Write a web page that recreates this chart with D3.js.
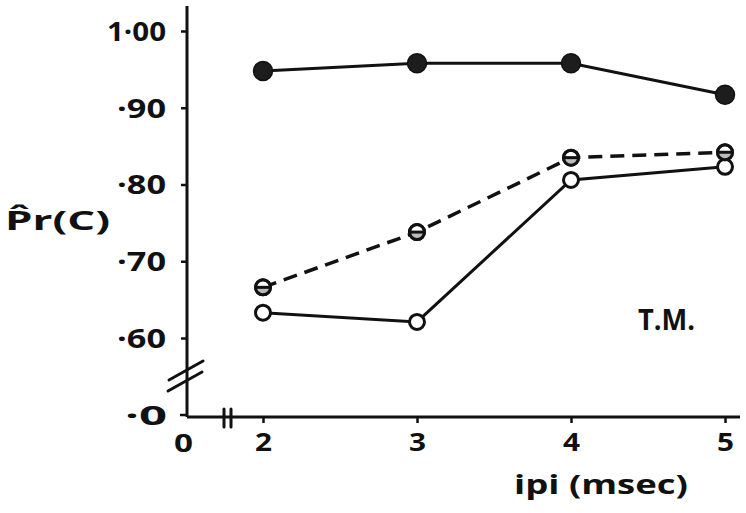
<!DOCTYPE html>
<html>
<head>
<meta charset="utf-8">
<script src="https://cdn.jsdelivr.net/npm/d3@7/dist/d3.min.js"></script>
<style>
  html, body { margin: 0; padding: 0; background: #fff; }
  svg { display: block; }
  text { font-family: "Open Sans", "DejaVu Sans", sans-serif; font-weight: 700; fill: #111; }
</style>
</head>
<body>
<svg id="chart" width="746" height="513"></svg>
<script>
// Inter-pulse interval (msec) and estimated probability correct
const ipi = [2, 3, 4, 5];
const filledSeries = [0.948, 0.958, 0.958, 0.917];
const dashedSeries = [0.666, 0.738, 0.835, 0.842];
const openSeries   = [0.633, 0.621, 0.806, 0.823];

const yTickValues = [1.00, 0.90, 0.80, 0.70, 0.60];
const yTickLabels = ["1·00", "·90", "·80", "·70", "·60"];
const xTickLabels = ["2", "3", "4", "5"];

const svg = d3.select("#chart");
const ink = "#111";

const x = d3.scaleLinear().domain([2, 5]).range([263, 725]);
const y = d3.scaleLinear().domain([0.6, 1.0]).range([338, 31]);

const axisX0 = 187, axisY0 = 417;

// stretch a text element to a given width (the lettering is wide and round)
function widen(sel, w) {
  sel.attr("textLength", w).attr("lengthAdjust", "spacingAndGlyphs");
}

// axis lines
svg.append("line").attr("x1", axisX0).attr("x2", axisX0).attr("y1", 6).attr("y2", axisY0)
  .attr("stroke", ink).attr("stroke-width", 3);
svg.append("line").attr("x1", axisX0).attr("x2", 740).attr("y1", axisY0).attr("y2", axisY0)
  .attr("stroke", ink).attr("stroke-width", 3);

// y ticks via d3 axis
const yAxis = d3.axisLeft(y).tickValues(yTickValues).tickSize(6).tickPadding(15)
  .tickFormat((d, i) => yTickLabels[i]);
const gy = svg.append("g").attr("transform", `translate(${axisX0},0)`).call(yAxis);
gy.select(".domain").remove();
gy.selectAll(".tick line").attr("stroke", ink).attr("stroke-width", 2.5);
gy.selectAll(".tick text").attr("font-size", 26).attr("font-family", null)
  .attr("dy", "0.36em").attr("fill", ink)
  .each(function(d, i) { widen(d3.select(this), i === 0 ? 59 : 49); });

// x ticks via d3 axis
const xAxis = d3.axisBottom(x).tickValues(ipi).tickSize(6).tickPadding(10)
  .tickFormat((d, i) => xTickLabels[i]);
const gx = svg.append("g").attr("transform", `translate(0,${axisY0})`).call(xAxis);
gx.select(".domain").remove();
gx.selectAll(".tick line").attr("stroke", ink).attr("stroke-width", 2.5);
gx.selectAll(".tick text").attr("font-size", 25).attr("font-family", null).attr("fill", ink)
  .each(function() { widen(d3.select(this), 17); });

// origin labels
widen(svg.append("text").attr("x", 125).attr("y", 425)
  .attr("font-size", 26).text("·0"), 42);
svg.append("line").attr("x1", 180).attr("x2", axisX0).attr("y1", 415).attr("y2", 415)
  .attr("stroke", ink).attr("stroke-width", 2.5);
widen(svg.append("text").attr("x", 174).attr("y", 452)
  .attr("font-size", 25).text("0"), 19);

// axis break marks
const brk = svg.append("g").attr("stroke", ink).attr("stroke-width", 3).attr("stroke-linecap", "round");
brk.append("line").attr("x1", 169).attr("y1", 380).attr("x2", 203).attr("y2", 361);
brk.append("line").attr("x1", 168).attr("y1", 391).attr("x2", 202).attr("y2", 372);
brk.append("line").attr("x1", 224).attr("y1", 409).attr("x2", 224).attr("y2", 427);
brk.append("line").attr("x1", 231).attr("y1", 409).attr("x2", 231).attr("y2", 427);

// axis titles
widen(svg.append("text").attr("x", 5).attr("y", 230).attr("font-size", 27)
  .text("P\u0302r(C)"), 105);
widen(svg.append("text").attr("x", 514).attr("y", 494)
  .attr("font-size", 27).text("ipi (msec)"), 174);
widen(svg.append("text").attr("x", 638).attr("y", 330)
  .attr("font-size", 28).text("T.M."), 57);

// series lines
const line = d3.line().x((d, i) => x(ipi[i])).y(d => y(d));
svg.append("path").datum(filledSeries).attr("d", line)
  .attr("fill", "none").attr("stroke", ink).attr("stroke-width", 3);
svg.append("path").datum(openSeries).attr("d", line)
  .attr("fill", "none").attr("stroke", ink).attr("stroke-width", 3);
svg.append("path").datum(dashedSeries).attr("d", line)
  .attr("fill", "none").attr("stroke", ink).attr("stroke-width", 3.5)
  .attr("stroke-dasharray", "14 8");

// markers
svg.append("g").selectAll("circle").data(filledSeries).join("circle")
  .attr("cx", (d, i) => x(ipi[i])).attr("cy", d => y(d)).attr("r", 9.5)
  .attr("fill", "#1d1d1d").attr("stroke", ink).attr("stroke-width", 1.5);

svg.append("g").selectAll("circle").data(openSeries).join("circle")
  .attr("cx", (d, i) => x(ipi[i])).attr("cy", d => y(d)).attr("r", 7.5)
  .attr("fill", "#fff").attr("stroke", ink).attr("stroke-width", 3);

const dm = svg.append("g").selectAll("g").data(dashedSeries).join("g")
  .attr("transform", (d, i) => `translate(${x(ipi[i])},${y(d)})`);
dm.append("circle").attr("r", 7.5).attr("fill", "#fff").attr("stroke", ink).attr("stroke-width", 3);
dm.append("path").attr("d", "M-7.5,0 A7.5,7.5 0 0 0 7.5,0 Z").attr("fill", "#bbb");
dm.append("line").attr("x1", -7.5).attr("x2", 7.5).attr("y1", 0).attr("y2", 0)
  .attr("stroke", ink).attr("stroke-width", 3);
dm.append("circle").attr("r", 7.5).attr("fill", "none").attr("stroke", ink).attr("stroke-width", 3);
</script>
</body>
</html>
